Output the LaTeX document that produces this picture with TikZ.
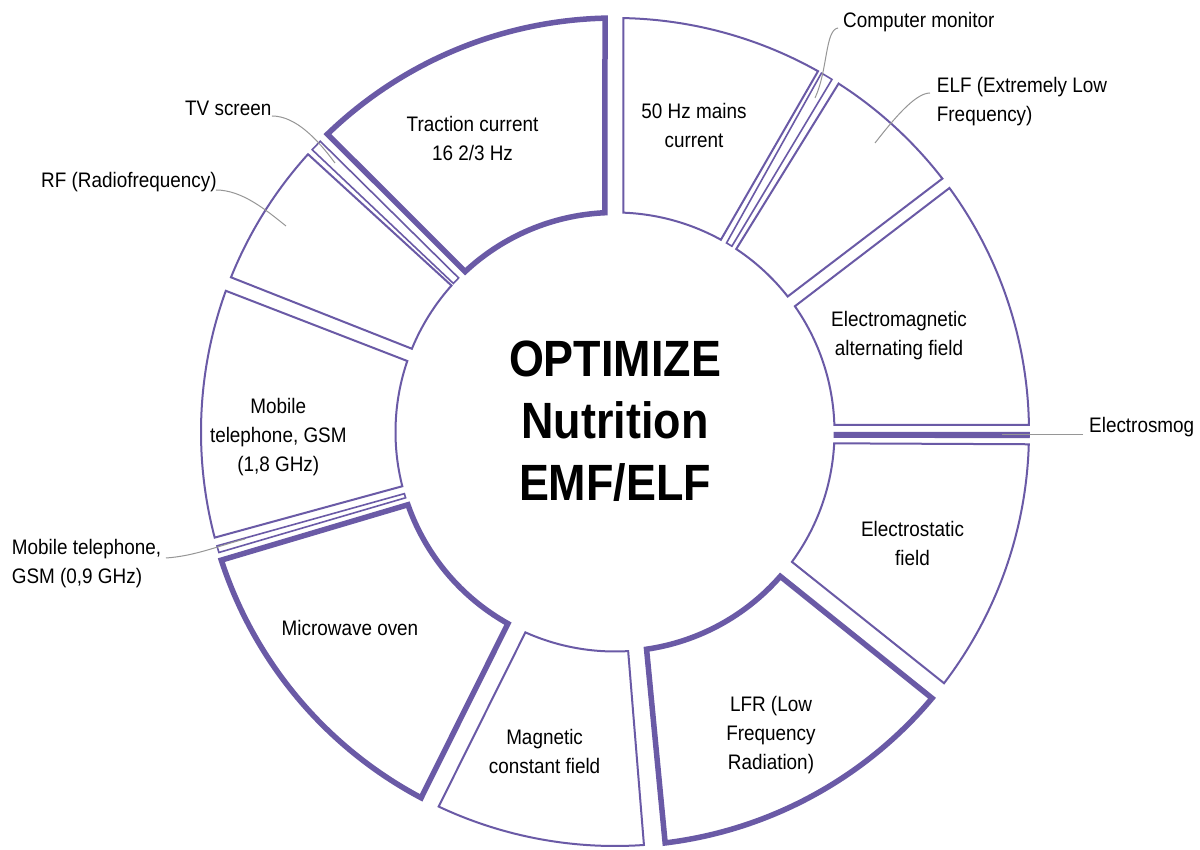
\documentclass[tikz,border=0pt]{standalone}
\usepackage{fontspec}
\setmainfont{Liberation Sans}[FakeStretch=0.9]
\newfontfamily\titlefont{Liberation Sans}[FakeStretch=0.88]
\definecolor{ringpurple}{RGB}{106,90,166}
\definecolor{leadgray}{RGB}{150,150,150}
\newcommand\Ro{414pt}
\newcommand\Ri{219.5pt}
% #1 style, #2 outer start, #3 outer end, #4 inner end, #5 inner start
\newcommand\ringseg[5]{%
  \draw[#1] (#2:\Ro) arc[start angle=#2, end angle=#3, radius=\Ro]
    -- (#4:\Ri) arc[start angle=#4, end angle=#5, radius=\Ri] -- cycle;}
\tikzset{
  segthin/.style={draw=ringpurple, line width=2pt, line join=miter},
  segthick/.style={draw=ringpurple, line width=5.5pt, line join=miter},
  segsliver/.style={draw=ringpurple, line width=1.6pt, line join=miter},
  lbl/.style={font=\fontsize{21}{29}\selectfont, align=center, inner sep=0pt, anchor=base, text=black},
  outlbl/.style={font=\fontsize{21}{29}\selectfont, align=left, inner sep=0pt, anchor=base west, text=black},
  leader/.style={draw=leadgray, line width=1pt},
  titletxt/.style={font=\titlefont\bfseries\fontsize{51}{62}\selectfont, align=center, inner sep=0pt, anchor=base, text=black}
}
\begin{document}
\begin{tikzpicture}[x=1pt,y=1pt]
\useasboundingbox[fill=white] (-615,-418) rectangle (585,432);
% segments, clockwise from the top
\ringseg{segthin}{88.85}{60.63}{61.15}{87.84}      % 50 Hz mains current
\ringseg{segsliver}{60.09}{58.39}{57.82}{59.46}    % Computer monitor
\ringseg{segthin}{57.31}{37.74}{38.12}{56.47}      % ELF
\ringseg{segthin}{36.11}{0.97}{1.84}{34.95}        % Electromagnetic alternating field
\ringseg{segsliver,fill=ringpurple}{-0.10}{-0.75}{-1.30}{-0.20}    % Electrosmog
\ringseg{segthin}{-1.70}{-37.36}{-36.28}{-2.96}    % Electrostatic field
\ringseg{segthick}{-40.02}{-83.04}{-81.73}{-41.13} % LFR
\ringseg{segthin}{-85.99}{-115.21}{-114.09}{-86.56} % Magnetic constant field
\ringseg{segthick}{-117.92}{-161.97}{-160.64}{-119.19} % Microwave oven
\ringseg{segsliver}{-163.08}{-164.03}{-163.68}{-162.56} % GSM 0,9
\ringseg{segthin}{194.78}{160.06}{161.13}{194.31}  % GSM 1,8
\ringseg{segthin}{158.06}{137.86}{138.16}{157.71}  % RF
\ringseg{segsliver}{137.01}{135.39}{135.43}{137.41} % TV screen
\ringseg{segthick}{133.99}{91.38}{92.64}{133.06}   % Traction current

% labels inside segments (anchor = baseline of the last line)
\node[lbl] (traction) at (-142.5,271.3) {Traction current\\16 2/3 Hz};
\node[lbl] (mains) at (79,284.3) {50 Hz mains\\current};
\node[lbl] (emalt) at (284,76) {Electromagnetic\\alternating field};
\node[lbl] (estatic) at (297.5,-134) {Electrostatic\\field};
\node[lbl] (lfr) at (156,-338) {LFR (Low\\Frequency\\Radiation)};
\node[lbl] (magnetic) at (-70.4,-342) {Magnetic\\constant field};
\node[lbl] (microwave) at (-265,-204) {Microwave oven};
\node[lbl] (gsmeight) at (-336.7,-39.7) {Mobile\\telephone, GSM\\(1,8 GHz)};

% outside labels
\node[outlbl] (compmon) at (228,404.7) {Computer monitor};
\node[outlbl] (elf) at (321.7,310.5) {ELF (Extremely Low\\Frequency)};
\node[outlbl] (esmog) at (474,-0.7) {Electrosmog};
\node[outlbl] (tv) at (-430,316) {TV screen};
\node[outlbl] (rf) at (-574,244.7) {RF (Radiofrequency)};
\node[outlbl] (gsmnine) at (-603.3,-152) {Mobile telephone,\\GSM (0,9 GHz)};

% leader end points
\coordinate (compmonend) at (200,334);
\coordinate (elfend) at (260,289);
\coordinate (esmogend) at (387,-2.3);
\coordinate (tvend) at (-280,269);
\coordinate (rfend) at (-329,206);
\coordinate (gsmnineend) at (-370,-107);

\draw[leader] (223,404) .. controls (210,402) and (213,362) .. (compmonend);
\draw[leader] (315,339) .. controls (300,339) and (278,312) .. (elfend);
\draw[leader] (468,-2.3) -- (esmogend);
\draw[leader] (-343,316) .. controls (-319,316) and (-297,292) .. (tvend);
\draw[leader] (-399,242) .. controls (-373,242) and (-349,222) .. (rfend);
\draw[leader] (-449,-126) .. controls (-420,-124) and (-397,-114) .. (gsmnineend);

% centre title
\node[titletxt] (title) at (0,-68.5) {OPTIMIZE\\Nutrition\\EMF/ELF};
\end{tikzpicture}
\end{document}
